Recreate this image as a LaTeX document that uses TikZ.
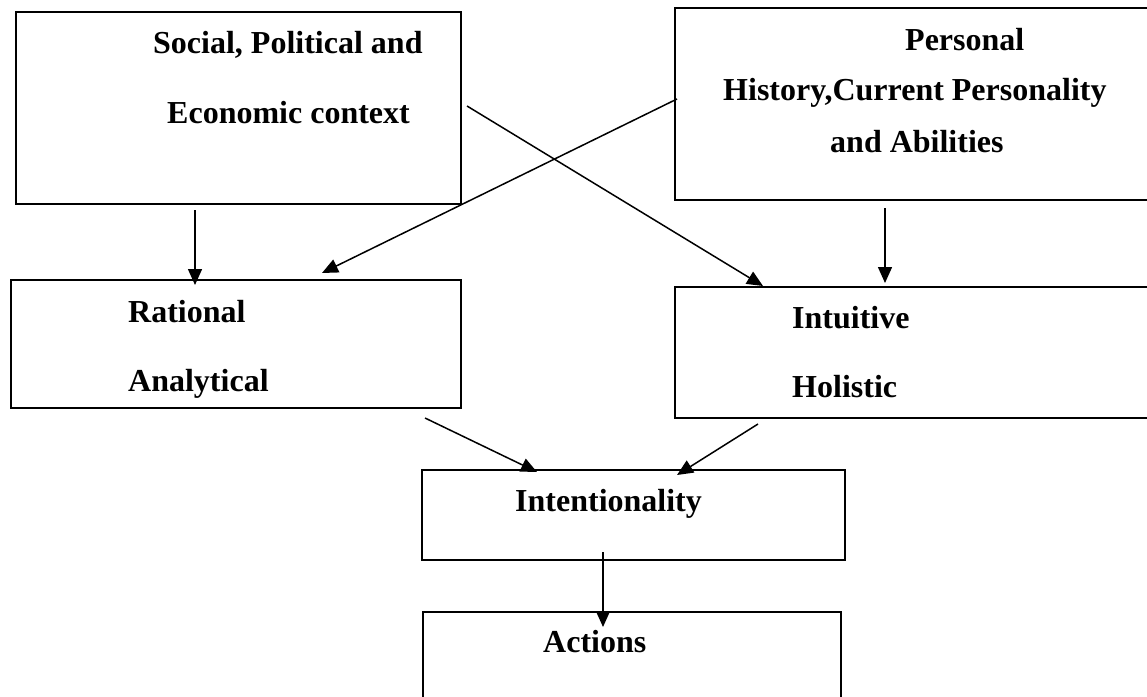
\documentclass[tikz,border=0pt]{standalone}
\usepackage{fontspec}
\setmainfont{Liberation Serif}
\usetikzlibrary{arrows.meta}
\begin{document}
\begin{tikzpicture}[x=1pt,y=-1pt,
  box/.style={draw, line width=1.8pt, rectangle, inner sep=0pt, outer sep=0pt, anchor=north west},
  lbl/.style={font=\fontsize{32}{38}\selectfont\bfseries, anchor=base west, inner sep=0pt},
  arr/.style={line width=1.5pt, -{Triangle[length=16pt,width=14pt]}}]
  \useasboundingbox (0,0) rectangle (1147,696);
  \clip (0,0) rectangle (1147,696);

  % boxes
  \node[box, minimum width=445pt, minimum height=192pt] (context) at (16,12) {};
  \node[box, minimum width=480pt, minimum height=192pt] (personal) at (675,8) {};
  \node[box, minimum width=450pt, minimum height=128pt] (rational) at (11,280) {};
  \node[box, minimum width=480pt, minimum height=131pt] (intuitive) at (675,287) {};
  \node[box, minimum width=423pt, minimum height=90pt] (intent) at (422,470) {};
  \node[box, minimum width=418pt, minimum height=100pt] (actions) at (423,612) {};

  % labels
  \node[lbl] (t1a) at (153,53) {Social, Political and};
  \node[lbl] (t1b) at (167,123) {Economic context};
  \node[lbl] (t2a) at (905,50) {Personal};
  \node[lbl] (t2b) at (723,100) {History,Current Personality};
  \node[lbl] (t2c) at (830,152) {and Abilities};
  \node[lbl] (t3a) at (128,322) {Rational};
  \node[lbl] (t3b) at (128,391) {Analytical};
  \node[lbl] (t4a) at (792,328) {Intuitive};
  \node[lbl] (t4b) at (792,397) {Holistic};
  \node[lbl] (t5) at (515,511) {Intentionality};
  \node[lbl] (t6) at (543,652) {Actions};

  % connector end points
  \coordinate (c1s) at (195,210);  \coordinate (c1e) at (195,285);
  \coordinate (c2s) at (885,208);  \coordinate (c2e) at (885,283);
  \coordinate (c3s) at (677,99);   \coordinate (c3e) at (322,273);
  \coordinate (c4s) at (467,106);  \coordinate (c4e) at (763,286);
  \coordinate (c5s) at (425,418);  \coordinate (c5e) at (537,472);
  \coordinate (c6s) at (758,424);  \coordinate (c6e) at (677,475);
  \coordinate (c7s) at (603,552);  \coordinate (c7e) at (603,627);

  % connectors
  \draw[arr] (c1s) -- (c1e);
  \draw[arr] (c2s) -- (c2e);
  \draw[arr] (c3s) -- (c3e);
  \draw[arr] (c4s) -- (c4e);
  \draw[arr] (c5s) -- (c5e);
  \draw[arr] (c6s) -- (c6e);
  \draw[arr] (c7s) -- (c7e);
\end{tikzpicture}
\end{document}
